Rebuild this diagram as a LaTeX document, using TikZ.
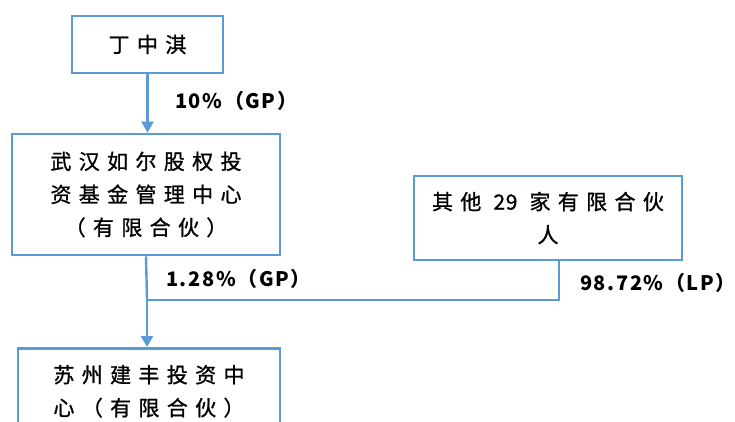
\documentclass[tikz,border=0pt]{standalone}
\usepackage{fontspec}
\usepackage{tikz}
\usetikzlibrary{arrows.meta,positioning}
\newfontfamily\cjk[LetterSpace=35,FakeBold=1]{Noto Sans CJK SC}
\newfontfamily\cjknum[LetterSpace=8]{Noto Sans CJK SC}
\newfontfamily\cjkdigit[LetterSpace=3,FakeBold=1]{Noto Sans CJK SC}
\definecolor{boxblue}{RGB}{91,155,213}

\begin{document}
\begin{tikzpicture}[x=1pt,y=-1pt]
\tikzstyle{box}=[draw=boxblue,line width=2.7pt,inner sep=0pt,align=center,font=\cjk\fontsize{21pt}{33pt}\selectfont]
\tikzstyle{lab}=[inner sep=0pt,font=\cjknum\bfseries\fontsize{20pt}{24pt}\selectfont]
\tikzstyle{link}=[draw=boxblue,line width=2.4pt]
\tikzstyle{thinlink}=[draw=boxblue,line width=1.6pt]
\tikzstyle{arrow}=[link,-{Triangle[width=12pt,length=11pt]}]
\useasboundingbox (0,0) rectangle (735,421);
\clip (0,0) rectangle (735,421);
\node [box,minimum width=151pt,minimum height=57pt] at (147.5,44.5) (ding) {丁中淇};
\node [box,minimum width=268pt,minimum height=121pt] at (146,194.5) (rues) {武汉如尔股权投\\资基金管理中心\\（有限合伙）};
\node [box,minimum width=268pt,minimum height=84pt] at (548,218) (others) {其他 {\cjkdigit 29} 家有限合伙\\人};
\node [box,minimum width=262pt,minimum height=86pt,anchor=north] at (149,347) (jianfeng) {苏州建丰投资中\\心（有限合伙）};
\coordinate (merge) at (147,300);

\node [lab,anchor=west] at (175,101) (gpding) {10\%（GP）};
\node [lab,anchor=west] at (166,279) (gprues) {1.28\%（GP）};
\node [lab,anchor=west] at (580,283) (lpothers) {98.72\%（LP）};

\draw [arrow] (ding.south) -- (ding.south |- rues.north);
\draw [link] (rues.south) -- (merge);
\draw [arrow] (merge) -- (merge |- jianfeng.north);
\draw [thinlink] ([xshift=11pt]others.south) |- (merge);
\end{tikzpicture}
\end{document}
